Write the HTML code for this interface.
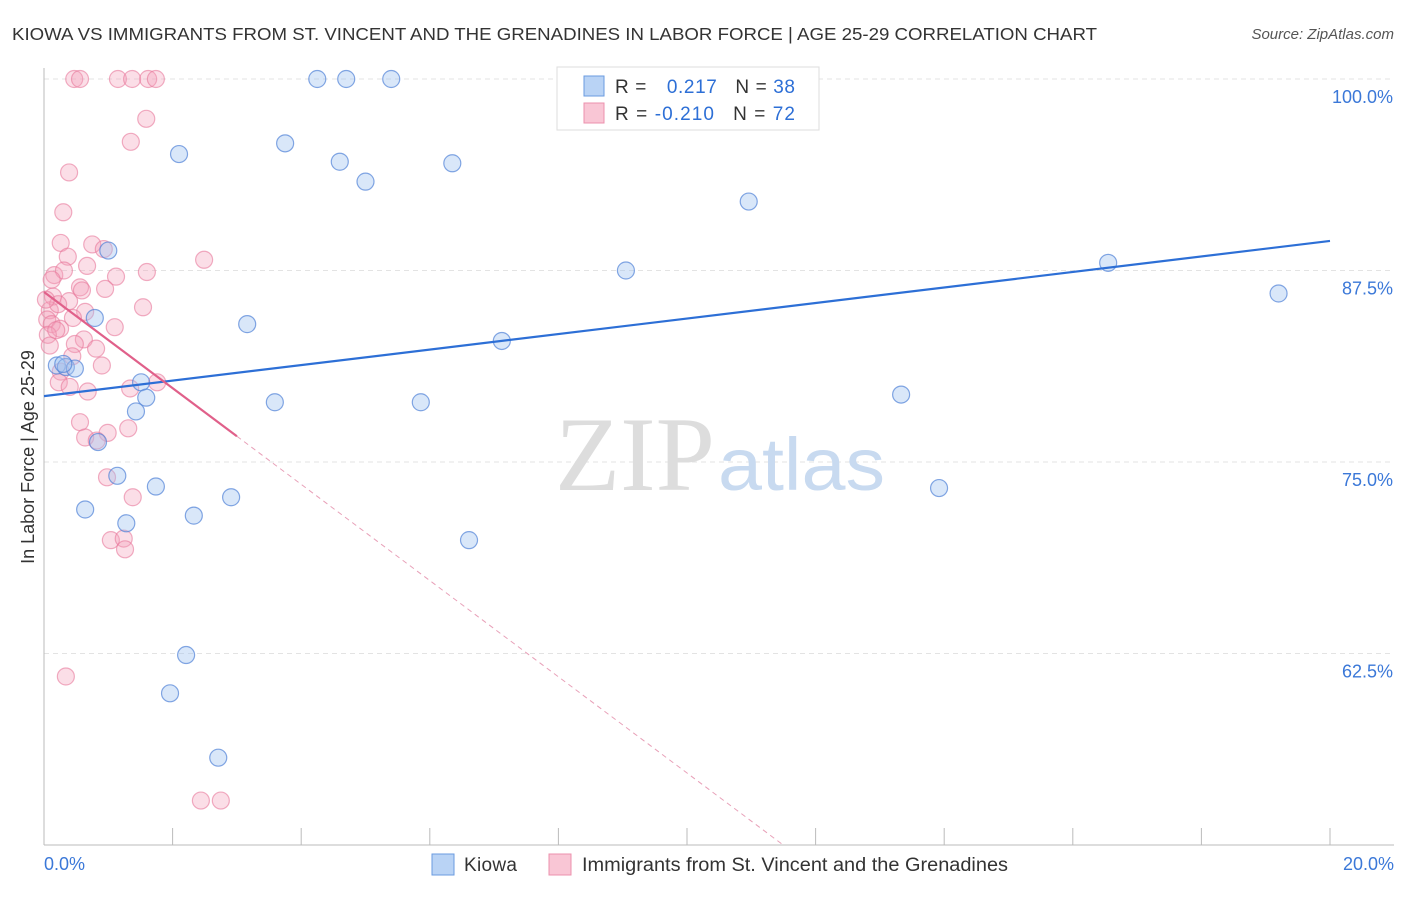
<!DOCTYPE html>
<html><head><meta charset="utf-8"><style>
body{margin:0;background:#fff;font-family:"Liberation Sans",sans-serif;}
</style></head><body>
<svg width="1406" height="892" viewBox="0 0 1406 892" xmlns="http://www.w3.org/2000/svg">
<text x="12" y="40" font-size="17.5" fill="#333" textLength="1085" lengthAdjust="spacingAndGlyphs">KIOWA VS IMMIGRANTS FROM ST. VINCENT AND THE GRENADINES IN LABOR FORCE | AGE 25-29 CORRELATION CHART</text>
<text x="1394" y="39" font-size="15" fill="#555" font-style="italic" text-anchor="end">Source: ZipAtlas.com</text>
<g id="grid"></g>
<text x="555" y="490" font-size="106" font-family="Liberation Serif,serif" fill="#ddd" textLength="160" lengthAdjust="spacingAndGlyphs">ZIP</text>
<text x="718" y="490" font-size="74" fill="#c8daf0" textLength="167" lengthAdjust="spacingAndGlyphs">atlas</text>
<g id="marks"></g>
<text transform="translate(34,457) rotate(-90)" font-size="18" fill="#333" text-anchor="middle">In Labor Force | Age 25-29</text>
<g>
<rect x="557" y="67" width="262" height="63" fill="#fff" stroke="#ddd"/>
<rect x="584" y="76" width="20" height="20" fill="#b9d3f5" stroke="#6a9be0"/>
<rect x="584" y="103" width="20" height="20" fill="#f9c6d5" stroke="#ec90ad"/>
<text x="615" y="93" font-size="19" fill="#333" textLength="180">R = <tspan fill="#2d6fd6" dx="14">0.217</tspan><tspan fill="#333" dx="18">N = </tspan><tspan fill="#2d6fd6">38</tspan></text>
<text x="615" y="120" font-size="19" fill="#333" textLength="180">R = <tspan fill="#2d6fd6">-0.210</tspan><tspan fill="#333" dx="18">N = </tspan><tspan fill="#2d6fd6">72</tspan></text>
</g>
<g>
<rect x="432" y="854" width="22" height="21" fill="#b9d3f5" stroke="#6a9be0"/>
<text x="464" y="871" font-size="19" fill="#333" textLength="53">Kiowa</text>
<rect x="549" y="854" width="22" height="21" fill="#f9c6d5" stroke="#ec90ad"/>
<text x="582" y="871" font-size="19" fill="#333" textLength="426" lengthAdjust="spacingAndGlyphs">Immigrants from St. Vincent and the Grenadines</text>
</g>
</svg>
<script>
const yTicks=[100,87.5,75,62.5];
const yTickLabels=["100.0%","87.5%","75.0%","62.5%"];
const xTicks=[0,2,4,6,8,10,12,14,16,18,20];
const xTickLabels=["0.0%","20.0%"];
const kiowaX=[4.25,4.7,5.4,2.1,3.75,4.6,5.0,6.35,10.96,1.0,9.05,16.55,19.2,0.79,3.16,7.12,0.2,0.34,0.48,1.51,1.59,1.43,3.59,5.86,13.33,0.84,1.14,1.74,2.91,13.92,0.64,2.33,1.28,6.61,2.21,1.96,2.71,0.3];
const kiowaY=[100,100,100,95.1,95.8,94.6,93.3,94.5,92.0,88.8,87.5,88.0,86.0,84.4,84.0,82.9,81.3,81.2,81.1,80.2,79.2,78.3,78.9,78.9,79.4,76.3,74.1,73.4,72.7,73.3,71.9,71.5,71.0,69.9,62.4,59.9,55.7,81.4];
const immX=[0.47,0.56,1.15,1.37,1.62,1.74,1.59,1.35,0.39,0.3,0.26,0.75,0.93,0.37,2.49,0.67,0.16,0.31,1.12,1.6,0.56,0.59,0.95,0.14,0.39,1.54,0.09,0.22,0.64,0.45,0.05,0.12,0.25,0.06,0.19,0.62,1.1,0.48,0.81,0.09,0.44,0.9,0.26,0.23,0.4,0.68,1.34,1.76,0.56,0.99,0.64,1.31,0.82,0.98,1.38,1.04,1.24,1.26,0.34,2.44,2.75,0.12,0.03];
const immY=[100,100,100,100,100,100,97.4,95.9,93.9,91.3,89.3,89.2,88.9,88.4,88.2,87.8,87.2,87.5,87.1,87.4,86.4,86.2,86.3,85.8,85.5,85.1,84.9,85.3,84.8,84.4,84.3,84.0,83.7,83.3,83.6,83.0,83.8,82.7,82.4,82.6,81.9,81.3,80.9,80.2,79.9,79.6,79.8,80.2,77.6,76.9,76.6,77.2,76.4,74.0,72.7,69.9,70.0,69.3,61.0,52.9,52.9,86.9,85.6];
const blueLine=[79.3,89.43];
const pinkIntercept=86.1, pinkSlope=-3.14, pinkSolidEnd=3.0;
const NS="http://www.w3.org/2000/svg";
const X=v=>44+v/20*1286;
const Y=v=>79+(100-v)/12.5*191.5;
function mk(t,a,p){const e=document.createElementNS(NS,t);for(const k in a)e.setAttribute(k,a[k]);p.appendChild(e);return e;}
const grid=document.getElementById('grid'), marks=document.getElementById('marks');
yTicks.forEach((t,i)=>{
 const l=mk('line',{x1:44,x2:1394,y1:Y(t),y2:Y(t),stroke:'#e3e3e3','stroke-dasharray':'5,4'},grid);
 
 
 const tx=mk('text',{x:1393,y:Y(t)+24,'font-size':18,fill:'#3b78d8','text-anchor':'end'},grid);
 tx.textContent=yTickLabels[i];
 
 
});
const ax=mk('line',{x1:44,x2:44,y1:68,y2:845,stroke:'#bbb'},grid);


const bx=mk('line',{x1:44,x2:1394,y1:845,y2:845,stroke:'#bbb'},grid);


xTicks.forEach(t=>{const l=mk('line',{x1:X(t),x2:X(t),y1:828,y2:845,stroke:'#bbb'},grid);
 
 });
[[0,'start',44],[20,'end',1394]].forEach((d,i)=>{const tx=mk('text',{x:d[2],y:870,'font-size':18,fill:'#3b78d8','text-anchor':d[1]},grid);tx.textContent=xTickLabels[i];
 
 });
immX.forEach((x,i)=>{const c=mk('circle',{cx:X(x),cy:Y(immY[i]),r:8.5,fill:'rgba(244,160,185,0.35)',stroke:'rgba(232,120,155,0.6)','stroke-width':1.2},marks);
 
 });
kiowaX.forEach((x,i)=>{const c=mk('circle',{cx:X(x),cy:Y(kiowaY[i]),r:8.5,fill:'rgba(160,195,240,0.4)',stroke:'rgba(80,130,215,0.7)','stroke-width':1.2},marks);
 
 });
const bl=mk('line',{x1:X(0),y1:Y(blueLine[0]),x2:X(20),y2:Y(blueLine[1]),stroke:'#2d6fd6','stroke-width':2.2},marks);


const xEnd=(50-pinkIntercept)/pinkSlope;
const pd=mk('line',{x1:X(pinkSolidEnd),y1:Y(pinkIntercept+pinkSlope*pinkSolidEnd),x2:X(xEnd),y2:Y(50),stroke:'#e8a0b8','stroke-width':1,'stroke-dasharray':'5,4'},marks);


const ps=mk('line',{x1:X(0),y1:Y(pinkIntercept),x2:X(pinkSolidEnd),y2:Y(pinkIntercept+pinkSlope*pinkSolidEnd),stroke:'#e0608a','stroke-width':2.2},marks);


</script>
</body></html>
